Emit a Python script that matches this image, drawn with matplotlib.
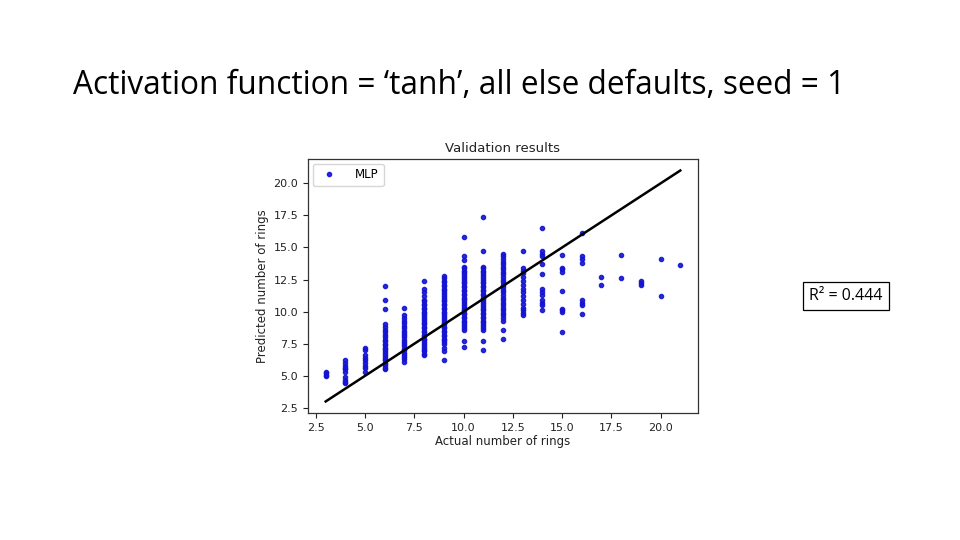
import matplotlib
matplotlib.use("Agg")
import matplotlib.pyplot as plt

# ---- data ----
rings = [3, 4, 5, 6, 7, 8, 9, 10, 11, 12, 13, 14, 15, 16, 17, 18, 19, 20, 21]

pred_3 = [5.0, 5.1, 5.2, 5.3]
pred_4 = [4.4, 4.5, 4.7, 4.9, 5.3, 5.5, 5.6, 5.8, 6.0, 6.2]
pred_5 = [5.3, 5.6, 5.8, 6.0, 6.2, 6.4, 6.6, 7.0, 7.2]
pred_6 = [5.5, 5.6, 5.8, 5.9, 6.0, 6.2, 6.3, 6.5, 6.6, 6.8, 6.9, 7.1, 7.2, 7.4,
          7.5, 7.7, 7.8, 8.0, 8.2, 8.4, 8.6, 8.8, 9.0, 10.2, 10.9, 12.0]
pred_7 = [6.1, 6.3, 6.5, 6.6, 6.8, 7.0, 7.1, 7.3, 7.5, 7.6, 7.8, 8.0, 8.2, 8.3,
          8.5, 8.7, 8.9, 9.1, 9.3, 9.5, 9.7, 10.25]
pred_8 = [6.6, 6.7, 6.9, 7.0, 7.2, 7.3, 7.5, 7.6, 7.8, 7.9, 8.1, 8.2, 8.4, 8.5,
          8.7, 8.8, 9.0, 9.1, 9.3, 9.4, 9.6, 9.7, 9.9, 10.0, 10.2, 10.3, 10.5,
          10.6, 10.8, 10.9, 11.2, 11.5, 11.8, 12.4]
pred_9 = [6.2, 6.9, 7.2, 7.5, 7.6, 7.8, 7.9, 8.1, 8.2, 8.4, 8.5, 8.7, 8.8, 9.0,
          9.1, 9.3, 9.4, 9.6, 9.7, 9.9, 10.0, 10.2, 10.3, 10.5, 10.6, 10.8, 10.9,
          11.1, 11.2, 11.4, 11.5, 11.7, 11.8, 12.0, 12.1, 12.3, 12.4, 12.6, 12.8]
pred_10 = [7.25, 7.7, 8.6, 8.7, 8.9, 9.0, 9.2, 9.3, 9.5, 9.6, 9.8, 9.9, 10.1,
           10.2, 10.4, 10.5, 10.7, 10.8, 11.0, 11.1, 11.3, 11.4, 11.6, 11.7,
           11.9, 12.0, 12.2, 12.3, 12.5, 12.6, 12.8, 12.9, 13.1, 13.2, 13.4,
           13.5, 14.0, 14.3, 15.8]
pred_11 = [7.0, 7.7, 8.6, 8.7, 8.9, 9.0, 9.2, 9.3, 9.5, 9.6, 9.8, 9.9, 10.1,
           10.2, 10.4, 10.5, 10.7, 10.8, 11.0, 11.1, 11.3, 11.4, 11.6, 11.7,
           11.9, 12.0, 12.2, 12.3, 12.5, 12.6, 12.8, 12.9, 13.1, 13.2, 13.4,
           13.5, 14.7, 17.4]
pred_12 = [7.9, 8.6, 9.3, 9.5, 9.7, 9.9, 10.1, 10.3, 10.5, 10.7, 10.9, 11.1,
           11.3, 11.5, 11.7, 11.9, 12.1, 12.3, 12.5, 12.7, 12.9, 13.1, 13.3,
           13.5, 13.7, 13.9, 14.1, 14.3, 14.5]
pred_13 = [9.7, 9.9, 10.1, 10.3, 10.6, 10.9, 11.2, 11.5, 11.8, 12.1, 12.4, 12.7,
           13.0, 13.2, 13.4, 14.7]
pred_14 = [10.1, 10.5, 10.7, 10.9, 11.3, 11.5, 11.8, 12.9, 13.7, 14.3, 14.5,
           14.7, 16.5]
pred_15 = [8.4, 10.0, 10.1, 10.2, 11.6, 13.1, 13.3, 13.4, 14.4]
pred_16 = [9.85, 10.5, 10.7, 10.9, 13.8, 14.1, 14.3, 16.15]
pred_17 = [12.1, 12.7]
pred_18 = [12.65, 14.4]
pred_19 = [12.1, 12.25, 12.4]
pred_20 = [11.2, 14.1]
pred_21 = [13.65]

predicted = [pred_3, pred_4, pred_5, pred_6, pred_7, pred_8, pred_9, pred_10,
             pred_11, pred_12, pred_13, pred_14, pred_15, pred_16, pred_17,
             pred_18, pred_19, pred_20, pred_21]

slide_title = "Activation function = \u2018tanh\u2019, all else defaults, seed = 1"
chart_title = "Validation results"
x_label = "Actual number of rings"
y_label = "Predicted number of rings"
legend_label = "MLP"
r2_text = "R\u00b2 = 0.444"

# ---- build flat series ----
actual_all = []
pred_all = []
for r, vals in zip(rings, predicted):
    for v in vals:
        actual_all.append(r)
        pred_all.append(v)

fig = plt.figure(figsize=(9.6, 5.4), dpi=100)
fig.patch.set_facecolor("white")

fig.text(0.076, 0.826, slide_title, fontsize=22.8,
         family=["Open Sans", "DejaVu Sans"],
         ha="left", va="baseline", color="black")

ax = fig.add_axes([0.3208, 0.2352, 0.4063, 0.4704])
ax.plot(actual_all, pred_all, ".", color="#1414d2", markersize=6,
        alpha=0.9, label=legend_label, zorder=2)
ax.plot([rings[0], rings[-1]], [rings[0], rings[-1]], "-", color="black",
        linewidth=1.8, zorder=3)
ax.set_xlim(2.1, 21.9)
ax.set_ylim(2.1, 21.9)
ax.set_xticks([2.5, 5.0, 7.5, 10.0, 12.5, 15.0, 17.5, 20.0])
ax.set_yticks([2.5, 5.0, 7.5, 10.0, 12.5, 15.0, 17.5, 20.0])
ax.tick_params(labelsize=8, colors="#222222", length=3.5)
ax.set_title(chart_title, fontsize=9.5, color="#222222", pad=5)
ax.set_xlabel(x_label, fontsize=8.5, color="#222222", labelpad=2)
ax.set_ylabel(y_label, fontsize=8.5, color="#222222", labelpad=3)
for s in ax.spines.values():
    s.set_color("#333333")
    s.set_linewidth(0.9)
leg = ax.legend(loc="upper left", fontsize=8.5, markerscale=1.0,
                borderaxespad=0.4, handletextpad=1.2)
leg.get_frame().set_edgecolor("#cccccc")

fig.text(0.881, 0.452, r2_text, fontsize=11.5,
         family=["Open Sans", "DejaVu Sans"], ha="center", va="center",
         bbox=dict(boxstyle="square,pad=0.4", facecolor="white",
                   edgecolor="black", linewidth=0.9))

fig.savefig("out.png", dpi=100, facecolor="white")
